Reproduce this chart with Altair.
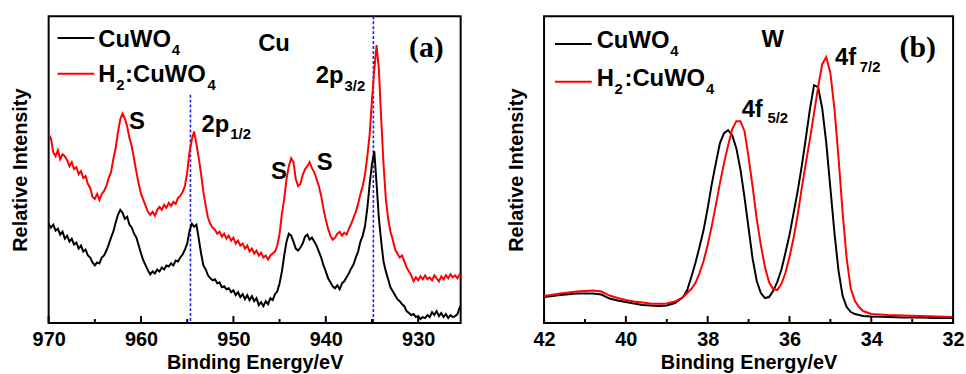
import altair as alt
import pandas as pd

# ---------------- data: panel (a) Cu 2p ----------------
E_A = [round(970 - 0.25 * i, 2) for i in range(181)]  # 970 -> 925 eV

CU_BLACK = [
    100, 96, 99, 93, 95, 89, 92, 85, 88, 82, 85, 79, 81, 75, 78, 72,
    74, 68, 66, 61, 58, 61, 60, 66, 68, 73, 79, 86, 92, 101, 109, 114,
    111, 105, 107, 99, 96, 90, 86, 78, 70, 63, 58, 53, 49, 52, 50, 54,
    52, 56, 54, 58, 57, 60, 58, 63, 62, 66, 69, 74, 80, 93, 100, 97,
    99, 85, 70, 58, 54, 48, 45, 43, 44, 40, 41, 36, 37, 34, 35, 31,
    33, 28, 31, 26, 29, 24, 28, 23, 27, 22, 25, 18, 21, 17, 22, 19,
    25, 23, 29, 32, 40, 52, 68, 82, 90, 88, 82, 75, 73, 76, 80, 87,
    89, 84, 86, 82, 78, 72, 66, 58, 52, 45, 41, 37, 35, 38, 34, 40,
    42, 46, 50, 55, 59, 66, 72, 82, 88, 98, 116, 140, 160, 173, 140, 105,
    82, 62, 52, 44, 36, 32, 28, 24, 22, 19, 17, 12, 10, 8, 9, 6,
    7, 4, 6, 5, 8, 6, 11, 8, 12, 7, 10, 6, 9, 5, 8, 6,
    7, 9, 16, 19, 30,
]
CU_RED = [
    190, 186, 172, 168, 174, 165, 170, 168, 164, 158, 162, 155, 157, 150, 153, 146,
    148, 140, 136, 127, 125, 130, 124, 130, 133, 138, 146, 152, 165, 176, 192, 205,
    211, 206, 198, 186, 178, 165, 152, 140, 130, 124, 118, 112, 109, 112, 108, 114,
    117, 114, 119, 116, 121, 118, 122, 120, 126, 128, 132, 138, 152, 172, 185, 193,
    180, 166, 150, 132, 118, 106, 100, 96, 94, 90, 92, 87, 90, 85, 88, 83,
    86, 80, 83, 78, 80, 75, 78, 72, 75, 70, 73, 68, 71, 66, 68, 64,
    68, 70, 72, 78, 90, 110, 125, 145, 158, 166, 162, 145, 138, 140, 149, 155,
    158, 162, 156, 152, 145, 138, 128, 115, 104, 95, 88, 84, 86, 90, 92, 88,
    91, 89, 95, 100, 106, 112, 120, 130, 138, 150, 168, 190, 225, 255, 280, 255,
    205, 160, 125, 105, 92, 84, 74, 70, 66, 68, 62, 56, 52, 48, 42, 46,
    43, 47, 44, 48, 44, 46, 43, 48, 45, 42, 47, 44, 48, 45, 49, 46,
    48, 45, 49, 47, 46,
]
CU_DASHES_FULL = [934.85]
CU_DASHES_PART = [954.65]
CU_LABELS = [970, 960, 950, 940, 930]
CU_MAJOR = [970, 960, 950, 940, 930]
CU_MINOR = [965, 955, 945, 935]

# ---------------- data: panel (b) W 4f ----------------
E_B = [42.0, 41.6, 41.2, 40.8, 40.6, 40.4, 40.2, 40.0, 39.8, 39.6, 39.4, 39.2, 39.0,
       38.8, 38.6, 38.5, 38.4, 38.3, 38.2, 38.1, 38.0, 37.9, 37.8, 37.7, 37.6, 37.5,
       37.4, 37.3, 37.2, 37.1, 37.0, 36.9, 36.8, 36.7, 36.6, 36.5, 36.4, 36.3, 36.2,
       36.1, 36.0, 35.9, 35.8, 35.7, 35.6, 35.5, 35.4, 35.3, 35.2, 35.1, 35.0, 34.9,
       34.8, 34.7, 34.6, 34.5, 34.4, 34.3, 34.2, 34.0, 33.6, 33.2, 32.8, 32.4, 32.0]
W_BLACK = [26, 28, 29.5, 29.5, 28.5, 24.5, 22.5, 21, 19.5, 18, 17.5, 17, 17.5,
           20, 26, 33, 46, 60, 76, 93, 115, 139, 160, 180, 190, 193,
           188, 175, 154, 126, 95, 64, 42, 30, 25, 26, 32, 41, 53,
           70, 88, 110, 132, 157, 185, 214, 238, 236, 215, 180, 135, 90,
           52, 27, 16, 11, 9, 8, 7, 6.5, 6, 5.5, 5.5, 5, 5]
W_RED = [27, 29.5, 31.5, 32.5, 31.5, 27.5, 25, 23, 21.5, 20.5, 19.5, 19.3, 19.5,
         21.5, 26, 30, 34, 40, 50, 62, 78, 97, 118, 140, 160, 178,
         194, 202, 202, 192, 166, 136, 104, 78, 56, 41, 34, 33, 39,
         50, 66, 85, 108, 135, 160, 184, 210, 236, 259, 266, 250, 214,
         165, 110, 64, 34, 22, 16, 12, 9, 8, 7.5, 7, 6.5, 6]
W_LABELS = [42, 40, 38, 36, 34, 32]
W_MAJOR = [42, 40, 38, 36, 34, 32]
W_MINOR = [41, 39, 37, 35, 33]

assert len(E_A) == len(CU_BLACK) == len(CU_RED)
assert len(E_B) == len(W_BLACK) == len(W_RED)

SANS = "Liberation Sans"
SERIF = "Liberation Serif"
DUMMY = pd.DataFrame({"k": [0]})


def txt(s, x, y, size=24, font=SANS):
    return alt.Chart(DUMMY).mark_text(
        text=s, align="left", baseline="alphabetic", font=font,
        fontSize=size, fontWeight="bold", color="black"
    ).encode(x=alt.value(x), y=alt.value(y))


def hline(x1, x2, y, color):
    return alt.Chart(DUMMY).mark_rule(color=color, strokeWidth=2).encode(
        x=alt.value(x1), x2=alt.value(x2), y=alt.value(y))


def panel(e, blk, red, xdom, ymax, w, h, labels, major, minor, extra):
    xs = alt.Scale(domain=xdom, reverse=True, nice=False, zero=False)
    ys = alt.Scale(domain=[0, ymax], nice=False, zero=False)
    X = alt.X("e:Q", scale=xs, axis=alt.Axis(
        values=labels, format="d", title="Binding Energy/eV", ticks=False,
        domain=False, grid=False, labelPadding=7, titlePadding=3,
        labelFlush=False))
    Y = alt.Y("I:Q", scale=ys, axis=alt.Axis(
        title="Relative Intensity", labels=False, ticks=False, domain=False,
        grid=False, titlePadding=18))
    df_b = pd.DataFrame({"e": e, "I": blk})
    df_r = pd.DataFrame({"e": e, "I": red})
    lb = alt.Chart(df_b).mark_line(color="black", strokeWidth=2, clip=True).encode(x=X, y=Y)
    lr = alt.Chart(df_r).mark_line(color="#ff0000", strokeWidth=2, clip=True).encode(x=X, y=Y)
    tmaj = alt.Chart(pd.DataFrame({"e": major})).mark_rule(color="black", strokeWidth=2).encode(
        x=X, y=alt.value(h), y2=alt.value(h - 7))
    tmin = alt.Chart(pd.DataFrame({"e": minor})).mark_rule(color="black", strokeWidth=2).encode(
        x=X, y=alt.value(h), y2=alt.value(h - 4))
    return alt.layer(*extra(X), lb, lr, tmaj, tmin).properties(width=w, height=h)


def extra_a(X):
    d1 = alt.Chart(pd.DataFrame({"e": CU_DASHES_FULL})).mark_rule(
        color="#1f1fe6", strokeWidth=1.6, strokeDash=[3, 2]).encode(
        x=X, y=alt.value(0), y2=alt.value(309))
    d2 = alt.Chart(pd.DataFrame({"e": CU_DASHES_PART})).mark_rule(
        color="#1f1fe6", strokeWidth=1.6, strokeDash=[3, 2]).encode(
        x=X, y=alt.value(79), y2=alt.value(309))
    return [
        d1, d2,
        hline(9, 46, 22, "black"), hline(9, 46, 58, "#ff0000"),
        txt("CuWO", 50, 31), txt("4", 124, 39, 15),
        txt("H", 50, 66), txt("2", 68, 74, 15), txt(":CuWO", 77, 66), txt("4", 160, 74, 15),
        txt("Cu", 211, 35),
        txt("(a)", 363, 41, 30, SERIF),
        txt("2p", 269, 67), txt("3/2", 298, 75, 15),
        txt("2p", 154, 117), txt("1/2", 183, 124, 15),
        txt("S", 81, 114), txt("S", 224, 164), txt("S", 270, 155),
    ]


def extra_b(X):
    return [
        hline(11, 48, 28, "black"), hline(11, 48, 66, "#ff0000"),
        txt("CuWO", 53, 32), txt("4", 127, 40, 15),
        txt("H", 53, 70), txt("2", 71, 78, 15), txt(":CuWO", 81, 70), txt("4", 163, 78, 15),
        txt("W", 219, 31),
        txt("(b)", 358, 41, 30, SERIF),
        txt("4f", 293, 49), txt("7/2", 318, 56, 15),
        txt("4f", 199, 101), txt("5/2", 225, 108, 15),
    ]


pa = panel(E_A, CU_BLACK, CU_RED, [925.4, 970], 309, 415, 309,
           CU_LABELS, CU_MAJOR, CU_MINOR, extra_a)
pb = panel(E_B, W_BLACK, W_RED, [32, 42], 307, 412, 309,
           W_LABELS, W_MAJOR, W_MINOR, extra_b)

chart = alt.hconcat(pa, pb, spacing=44).properties(
    padding={"left": 10, "top": 13, "right": 0, "bottom": 0},
    background="white",
).configure_view(
    stroke="black", strokeWidth=2
).configure_axis(
    labelFont=SANS, labelFontSize=20, labelFontWeight="bold", labelColor="black",
    titleFont=SANS, titleFontSize=20, titleFontWeight="bold", titleColor="black",
)

chart.save("out.html", embed_options={"renderer": "svg", "actions": False})
